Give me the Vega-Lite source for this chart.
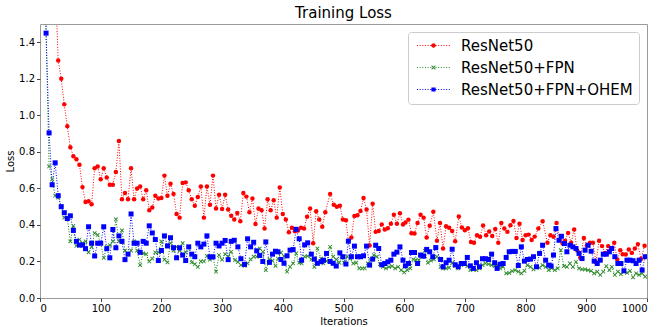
{
  "$schema": "https://vega.github.io/schema/vega-lite/v6.json",
  "width": 607,
  "height": 274,
  "autosize": {"type": "none"},
  "padding": {"left": 40, "top": 24, "right": 10, "bottom": 29},
  "background": "white",
  "title": {"text": "Training Loss", "fontSize": 15, "font": "DejaVu Sans", "fontWeight": "normal", "color": "black", "offset": 3, "anchor": "middle"},
  "config": {
    "view": {"stroke": "#9a9a9a", "strokeWidth": 1},
    "font": "DejaVu Sans",
    "axis": {"labelFont": "DejaVu Sans", "labelFontSize": 10, "labelColor": "black", "titleFont": "DejaVu Sans", "titleFontSize": 10, "titleFontWeight": "normal", "titleColor": "black", "domain": false, "grid": false, "tickColor": "#444444", "tickSize": 3.5, "labelPadding": 2},
    "legend": {"title": null, "orient": "top-right", "offset": 8, "labelFont": "DejaVu Sans", "labelFontSize": 15, "labelColor": "black", "labelLimit": 400, "symbolSize": 100, "symbolOffset": 12, "labelOffset": 20, "padding": 6, "rowPadding": 6, "strokeColor": "#cccccc", "fillColor": "rgba(255,255,255,0.85)", "cornerRadius": 3, "symbolStrokeWidth": 0, "symbolOpacity": 1}
  },
  "data": {"values": [
{"model":"ResNet50","iter":10,"loss":4.0},{"model":"ResNet50","iter":15,"loss":3.0},{"model":"ResNet50","iter":20,"loss":2.3},{"model":"ResNet50","iter":25,"loss":1.75},{"model":"ResNet50","iter":30,"loss":1.30},{"model":"ResNet50","iter":35,"loss":1.20},{"model":"ResNet50","iter":40,"loss":1.06},{"model":"ResNet50","iter":45,"loss":0.94},{"model":"ResNet50","iter":50,"loss":0.825},{"model":"ResNet50","iter":55,"loss":0.776},{"model":"ResNet50","iter":60,"loss":0.76},{"model":"ResNet50","iter":65,"loss":0.73},{"model":"ResNet50","iter":70,"loss":0.607},{"model":"ResNet50","iter":75,"loss":0.525},{"model":"ResNet50","iter":80,"loss":0.53},{"model":"ResNet50","iter":85,"loss":0.513},{"model":"ResNet50","iter":90,"loss":0.71},{"model":"ResNet50","iter":95,"loss":0.72},{"model":"ResNet50","iter":100,"loss":0.65},{"model":"ResNet50","iter":105,"loss":0.71},{"model":"ResNet50","iter":110,"loss":0.66},{"model":"ResNet50","iter":115,"loss":0.62},{"model":"ResNet50","iter":120,"loss":0.62},{"model":"ResNet50","iter":125,"loss":0.69},{"model":"ResNet50","iter":130,"loss":0.86},{"model":"ResNet50","iter":135,"loss":0.54},{"model":"ResNet50","iter":140,"loss":0.575},{"model":"ResNet50","iter":145,"loss":0.54},{"model":"ResNet50","iter":150,"loss":0.71},{"model":"ResNet50","iter":155,"loss":0.54},{"model":"ResNet50","iter":160,"loss":0.60},{"model":"ResNet50","iter":165,"loss":0.61},{"model":"ResNet50","iter":170,"loss":0.54},{"model":"ResNet50","iter":175,"loss":0.59},{"model":"ResNet50","iter":180,"loss":0.48},{"model":"ResNet50","iter":185,"loss":0.495},{"model":"ResNet50","iter":190,"loss":0.56},{"model":"ResNet50","iter":195,"loss":0.545},{"model":"ResNet50","iter":200,"loss":0.547},{"model":"ResNet50","iter":205,"loss":0.67},{"model":"ResNet50","iter":210,"loss":0.56},{"model":"ResNet50","iter":215,"loss":0.625},{"model":"ResNet50","iter":220,"loss":0.57},{"model":"ResNet50","iter":225,"loss":0.46},{"model":"ResNet50","iter":230,"loss":0.44},{"model":"ResNet50","iter":235,"loss":0.63},{"model":"ResNet50","iter":240,"loss":0.633},{"model":"ResNet50","iter":245,"loss":0.59},{"model":"ResNet50","iter":250,"loss":0.54},{"model":"ResNet50","iter":255,"loss":0.505},{"model":"ResNet50","iter":260,"loss":0.553},{"model":"ResNet50","iter":265,"loss":0.61},{"model":"ResNet50","iter":270,"loss":0.44},{"model":"ResNet50","iter":275,"loss":0.61},{"model":"ResNet50","iter":280,"loss":0.51},{"model":"ResNet50","iter":285,"loss":0.67},{"model":"ResNet50","iter":290,"loss":0.49},{"model":"ResNet50","iter":295,"loss":0.565},{"model":"ResNet50","iter":300,"loss":0.487},{"model":"ResNet50","iter":305,"loss":0.565},{"model":"ResNet50","iter":310,"loss":0.484},{"model":"ResNet50","iter":315,"loss":0.45},{"model":"ResNet50","iter":320,"loss":0.43},{"model":"ResNet50","iter":325,"loss":0.465},{"model":"ResNet50","iter":330,"loss":0.42},{"model":"ResNet50","iter":335,"loss":0.575},{"model":"ResNet50","iter":340,"loss":0.555},{"model":"ResNet50","iter":345,"loss":0.47},{"model":"ResNet50","iter":350,"loss":0.545},{"model":"ResNet50","iter":355,"loss":0.405},{"model":"ResNet50","iter":360,"loss":0.49},{"model":"ResNet50","iter":365,"loss":0.48},{"model":"ResNet50","iter":370,"loss":0.38},{"model":"ResNet50","iter":375,"loss":0.54},{"model":"ResNet50","iter":380,"loss":0.48},{"model":"ResNet50","iter":385,"loss":0.535},{"model":"ResNet50","iter":390,"loss":0.44},{"model":"ResNet50","iter":395,"loss":0.605},{"model":"ResNet50","iter":400,"loss":0.46},{"model":"ResNet50","iter":405,"loss":0.43},{"model":"ResNet50","iter":410,"loss":0.36},{"model":"ResNet50","iter":415,"loss":0.385},{"model":"ResNet50","iter":420,"loss":0.365},{"model":"ResNet50","iter":425,"loss":0.37},{"model":"ResNet50","iter":430,"loss":0.385},{"model":"ResNet50","iter":435,"loss":0.38},{"model":"ResNet50","iter":440,"loss":0.445},{"model":"ResNet50","iter":445,"loss":0.49},{"model":"ResNet50","iter":450,"loss":0.30},{"model":"ResNet50","iter":455,"loss":0.475},{"model":"ResNet50","iter":460,"loss":0.43},{"model":"ResNet50","iter":465,"loss":0.39},{"model":"ResNet50","iter":470,"loss":0.47},{"model":"ResNet50","iter":478,"loss":0.57},{"model":"ResNet50","iter":484,"loss":0.51},{"model":"ResNet50","iter":489,"loss":0.50},{"model":"ResNet50","iter":494,"loss":0.505},{"model":"ResNet50","iter":499,"loss":0.43},{"model":"ResNet50","iter":504,"loss":0.426},{"model":"ResNet50","iter":508,"loss":0.313},{"model":"ResNet50","iter":513,"loss":0.331},{"model":"ResNet50","iter":518,"loss":0.449},{"model":"ResNet50","iter":523,"loss":0.453},{"model":"ResNet50","iter":528,"loss":0.476},{"model":"ResNet50","iter":533,"loss":0.547},{"model":"ResNet50","iter":538,"loss":0.484},{"model":"ResNet50","iter":543,"loss":0.287},{"model":"ResNet50","iter":548,"loss":0.516},{"model":"ResNet50","iter":553,"loss":0.362},{"model":"ResNet50","iter":558,"loss":0.367},{"model":"ResNet50","iter":563,"loss":0.402},{"model":"ResNet50","iter":568,"loss":0.375},{"model":"ResNet50","iter":573,"loss":0.382},{"model":"ResNet50","iter":578,"loss":0.407},{"model":"ResNet50","iter":583,"loss":0.456},{"model":"ResNet50","iter":588,"loss":0.407},{"model":"ResNet50","iter":593,"loss":0.464},{"model":"ResNet50","iter":598,"loss":0.402},{"model":"ResNet50","iter":602,"loss":0.413},{"model":"ResNet50","iter":607,"loss":0.429},{"model":"ResNet50","iter":612,"loss":0.355},{"model":"ResNet50","iter":617,"loss":0.353},{"model":"ResNet50","iter":622,"loss":0.411},{"model":"ResNet50","iter":627,"loss":0.456},{"model":"ResNet50","iter":632,"loss":0.44},{"model":"ResNet50","iter":637,"loss":0.331},{"model":"ResNet50","iter":642,"loss":0.395},{"model":"ResNet50","iter":648,"loss":0.472},{"model":"ResNet50","iter":654,"loss":0.313},{"model":"ResNet50","iter":659,"loss":0.411},{"model":"ResNet50","iter":664,"loss":0.271},{"model":"ResNet50","iter":669,"loss":0.393},{"model":"ResNet50","iter":674,"loss":0.384},{"model":"ResNet50","iter":679,"loss":0.367},{"model":"ResNet50","iter":684,"loss":0.311},{"model":"ResNet50","iter":690,"loss":0.446},{"model":"ResNet50","iter":695,"loss":0.386},{"model":"ResNet50","iter":700,"loss":0.371},{"model":"ResNet50","iter":705,"loss":0.382},{"model":"ResNet50","iter":710,"loss":0.307},{"model":"ResNet50","iter":715,"loss":0.302},{"model":"ResNet50","iter":720,"loss":0.344},{"model":"ResNet50","iter":725,"loss":0.335},{"model":"ResNet50","iter":730,"loss":0.397},{"model":"ResNet50","iter":735,"loss":0.344},{"model":"ResNet50","iter":740,"loss":0.364},{"model":"ResNet50","iter":745,"loss":0.34},{"model":"ResNet50","iter":750,"loss":0.378},{"model":"ResNet50","iter":755,"loss":0.302},{"model":"ResNet50","iter":760,"loss":0.411},{"model":"ResNet50","iter":765,"loss":0.38},{"model":"ResNet50","iter":770,"loss":0.362},{"model":"ResNet50","iter":775,"loss":0.398},{"model":"ResNet50","iter":780,"loss":0.422},{"model":"ResNet50","iter":785,"loss":0.329},{"model":"ResNet50","iter":790,"loss":0.407},{"model":"ResNet50","iter":795,"loss":0.317},{"model":"ResNet50","iter":800,"loss":0.344},{"model":"ResNet50","iter":805,"loss":0.347},{"model":"ResNet50","iter":810,"loss":0.317},{"model":"ResNet50","iter":815,"loss":0.336},{"model":"ResNet50","iter":821,"loss":0.38},{"model":"ResNet50","iter":828,"loss":0.42},{"model":"ResNet50","iter":836,"loss":0.302},{"model":"ResNet50","iter":841,"loss":0.344},{"model":"ResNet50","iter":846,"loss":0.335},{"model":"ResNet50","iter":851,"loss":0.411},{"model":"ResNet50","iter":856,"loss":0.317},{"model":"ResNet50","iter":861,"loss":0.298},{"model":"ResNet50","iter":865,"loss":0.313},{"model":"ResNet50","iter":870,"loss":0.356},{"model":"ResNet50","iter":875,"loss":0.302},{"model":"ResNet50","iter":880,"loss":0.375},{"model":"ResNet50","iter":885,"loss":0.26},{"model":"ResNet50","iter":890,"loss":0.22},{"model":"ResNet50","iter":896,"loss":0.329},{"model":"ResNet50","iter":901,"loss":0.287},{"model":"ResNet50","iter":906,"loss":0.302},{"model":"ResNet50","iter":911,"loss":0.302},{"model":"ResNet50","iter":916,"loss":0.196},{"model":"ResNet50","iter":921,"loss":0.313},{"model":"ResNet50","iter":926,"loss":0.284},{"model":"ResNet50","iter":931,"loss":0.246},{"model":"ResNet50","iter":936,"loss":0.284},{"model":"ResNet50","iter":941,"loss":0.271},{"model":"ResNet50","iter":946,"loss":0.302},{"model":"ResNet50","iter":951,"loss":0.211},{"model":"ResNet50","iter":956,"loss":0.262},{"model":"ResNet50","iter":960,"loss":0.24},{"model":"ResNet50","iter":965,"loss":0.238},{"model":"ResNet50","iter":970,"loss":0.265},{"model":"ResNet50","iter":975,"loss":0.247},{"model":"ResNet50","iter":980,"loss":0.271},{"model":"ResNet50","iter":985,"loss":0.295},{"model":"ResNet50","iter":990,"loss":0.213},{"model":"ResNet50","iter":996,"loss":0.286},
{"model":"ResNet50+FPN","iter":5,"loss":4.0},{"model":"ResNet50+FPN","iter":10,"loss":1.45},{"model":"ResNet50+FPN","iter":15,"loss":0.72},{"model":"ResNet50+FPN","iter":20,"loss":0.65},{"model":"ResNet50+FPN","iter":25,"loss":0.56},{"model":"ResNet50+FPN","iter":30,"loss":0.55},{"model":"ResNet50+FPN","iter":35,"loss":0.50},{"model":"ResNet50+FPN","iter":40,"loss":0.44},{"model":"ResNet50+FPN","iter":45,"loss":0.44},{"model":"ResNet50+FPN","iter":50,"loss":0.31},{"model":"ResNet50+FPN","iter":55,"loss":0.395},{"model":"ResNet50+FPN","iter":60,"loss":0.285},{"model":"ResNet50+FPN","iter":65,"loss":0.32},{"model":"ResNet50+FPN","iter":70,"loss":0.30},{"model":"ResNet50+FPN","iter":75,"loss":0.31},{"model":"ResNet50+FPN","iter":80,"loss":0.25},{"model":"ResNet50+FPN","iter":85,"loss":0.28},{"model":"ResNet50+FPN","iter":90,"loss":0.355},{"model":"ResNet50+FPN","iter":95,"loss":0.345},{"model":"ResNet50+FPN","iter":100,"loss":0.30},{"model":"ResNet50+FPN","iter":105,"loss":0.22},{"model":"ResNet50+FPN","iter":110,"loss":0.28},{"model":"ResNet50+FPN","iter":115,"loss":0.29},{"model":"ResNet50+FPN","iter":120,"loss":0.31},{"model":"ResNet50+FPN","iter":125,"loss":0.43},{"model":"ResNet50+FPN","iter":130,"loss":0.31},{"model":"ResNet50+FPN","iter":135,"loss":0.37},{"model":"ResNet50+FPN","iter":140,"loss":0.26},{"model":"ResNet50+FPN","iter":145,"loss":0.24},{"model":"ResNet50+FPN","iter":150,"loss":0.26},{"model":"ResNet50+FPN","iter":155,"loss":0.31},{"model":"ResNet50+FPN","iter":160,"loss":0.26},{"model":"ResNet50+FPN","iter":165,"loss":0.18},{"model":"ResNet50+FPN","iter":170,"loss":0.245},{"model":"ResNet50+FPN","iter":175,"loss":0.24},{"model":"ResNet50+FPN","iter":180,"loss":0.20},{"model":"ResNet50+FPN","iter":185,"loss":0.215},{"model":"ResNet50+FPN","iter":190,"loss":0.25},{"model":"ResNet50+FPN","iter":195,"loss":0.25},{"model":"ResNet50+FPN","iter":200,"loss":0.31},{"model":"ResNet50+FPN","iter":205,"loss":0.21},{"model":"ResNet50+FPN","iter":210,"loss":0.195},{"model":"ResNet50+FPN","iter":215,"loss":0.30},{"model":"ResNet50+FPN","iter":220,"loss":0.26},{"model":"ResNet50+FPN","iter":225,"loss":0.28},{"model":"ResNet50+FPN","iter":230,"loss":0.26},{"model":"ResNet50+FPN","iter":235,"loss":0.30},{"model":"ResNet50+FPN","iter":240,"loss":0.25},{"model":"ResNet50+FPN","iter":245,"loss":0.28},{"model":"ResNet50+FPN","iter":250,"loss":0.195},{"model":"ResNet50+FPN","iter":255,"loss":0.185},{"model":"ResNet50+FPN","iter":260,"loss":0.17},{"model":"ResNet50+FPN","iter":265,"loss":0.2},{"model":"ResNet50+FPN","iter":270,"loss":0.2},{"model":"ResNet50+FPN","iter":275,"loss":0.23},{"model":"ResNet50+FPN","iter":280,"loss":0.21},{"model":"ResNet50+FPN","iter":285,"loss":0.226},{"model":"ResNet50+FPN","iter":290,"loss":0.144},{"model":"ResNet50+FPN","iter":295,"loss":0.235},{"model":"ResNet50+FPN","iter":300,"loss":0.21},{"model":"ResNet50+FPN","iter":305,"loss":0.24},{"model":"ResNet50+FPN","iter":310,"loss":0.225},{"model":"ResNet50+FPN","iter":315,"loss":0.253},{"model":"ResNet50+FPN","iter":321,"loss":0.207},{"model":"ResNet50+FPN","iter":326,"loss":0.198},{"model":"ResNet50+FPN","iter":331,"loss":0.18},{"model":"ResNet50+FPN","iter":337,"loss":0.176},{"model":"ResNet50+FPN","iter":342,"loss":0.189},{"model":"ResNet50+FPN","iter":347,"loss":0.211},{"model":"ResNet50+FPN","iter":352,"loss":0.226},{"model":"ResNet50+FPN","iter":357,"loss":0.226},{"model":"ResNet50+FPN","iter":362,"loss":0.271},{"model":"ResNet50+FPN","iter":367,"loss":0.253},{"model":"ResNet50+FPN","iter":372,"loss":0.153},{"model":"ResNet50+FPN","iter":378,"loss":0.211},{"model":"ResNet50+FPN","iter":383,"loss":0.204},{"model":"ResNet50+FPN","iter":388,"loss":0.176},{"model":"ResNet50+FPN","iter":392,"loss":0.216},{"model":"ResNet50+FPN","iter":397,"loss":0.248},{"model":"ResNet50+FPN","iter":402,"loss":0.229},{"model":"ResNet50+FPN","iter":407,"loss":0.144},{"model":"ResNet50+FPN","iter":412,"loss":0.171},{"model":"ResNet50+FPN","iter":417,"loss":0.189},{"model":"ResNet50+FPN","iter":422,"loss":0.244},{"model":"ResNet50+FPN","iter":427,"loss":0.193},{"model":"ResNet50+FPN","iter":431,"loss":0.189},{"model":"ResNet50+FPN","iter":436,"loss":0.226},{"model":"ResNet50+FPN","iter":441,"loss":0.229},{"model":"ResNet50+FPN","iter":447,"loss":0.211},{"model":"ResNet50+FPN","iter":452,"loss":0.171},{"model":"ResNet50+FPN","iter":457,"loss":0.271},{"model":"ResNet50+FPN","iter":463,"loss":0.216},{"model":"ResNet50+FPN","iter":467,"loss":0.189},{"model":"ResNet50+FPN","iter":472,"loss":0.202},{"model":"ResNet50+FPN","iter":478,"loss":0.28},{"model":"ResNet50+FPN","iter":483,"loss":0.226},{"model":"ResNet50+FPN","iter":488,"loss":0.211},{"model":"ResNet50+FPN","iter":493,"loss":0.193},{"model":"ResNet50+FPN","iter":497,"loss":0.226},{"model":"ResNet50+FPN","iter":501,"loss":0.193},{"model":"ResNet50+FPN","iter":506,"loss":0.226},{"model":"ResNet50+FPN","iter":511,"loss":0.216},{"model":"ResNet50+FPN","iter":516,"loss":0.189},{"model":"ResNet50+FPN","iter":521,"loss":0.193},{"model":"ResNet50+FPN","iter":526,"loss":0.162},{"model":"ResNet50+FPN","iter":531,"loss":0.162},{"model":"ResNet50+FPN","iter":535,"loss":0.162},{"model":"ResNet50+FPN","iter":540,"loss":0.189},{"model":"ResNet50+FPN","iter":545,"loss":0.207},{"model":"ResNet50+FPN","iter":550,"loss":0.235},{"model":"ResNet50+FPN","iter":555,"loss":0.226},{"model":"ResNet50+FPN","iter":560,"loss":0.186},{"model":"ResNet50+FPN","iter":565,"loss":0.171},{"model":"ResNet50+FPN","iter":570,"loss":0.162},{"model":"ResNet50+FPN","iter":575,"loss":0.171},{"model":"ResNet50+FPN","iter":580,"loss":0.175},{"model":"ResNet50+FPN","iter":585,"loss":0.162},{"model":"ResNet50+FPN","iter":590,"loss":0.171},{"model":"ResNet50+FPN","iter":595,"loss":0.153},{"model":"ResNet50+FPN","iter":600,"loss":0.14},{"model":"ResNet50+FPN","iter":605,"loss":0.153},{"model":"ResNet50+FPN","iter":610,"loss":0.162},{"model":"ResNet50+FPN","iter":615,"loss":0.211},{"model":"ResNet50+FPN","iter":619,"loss":0.207},{"model":"ResNet50+FPN","iter":624,"loss":0.207},{"model":"ResNet50+FPN","iter":629,"loss":0.226},{"model":"ResNet50+FPN","iter":634,"loss":0.258},{"model":"ResNet50+FPN","iter":639,"loss":0.193},{"model":"ResNet50+FPN","iter":644,"loss":0.204},{"model":"ResNet50+FPN","iter":649,"loss":0.211},{"model":"ResNet50+FPN","iter":654,"loss":0.226},{"model":"ResNet50+FPN","iter":660,"loss":0.171},{"model":"ResNet50+FPN","iter":664,"loss":0.162},{"model":"ResNet50+FPN","iter":669,"loss":0.162},{"model":"ResNet50+FPN","iter":674,"loss":0.166},{"model":"ResNet50+FPN","iter":679,"loss":0.193},{"model":"ResNet50+FPN","iter":684,"loss":0.175},{"model":"ResNet50+FPN","iter":689,"loss":0.162},{"model":"ResNet50+FPN","iter":694,"loss":0.18},{"model":"ResNet50+FPN","iter":699,"loss":0.189},{"model":"ResNet50+FPN","iter":704,"loss":0.175},{"model":"ResNet50+FPN","iter":709,"loss":0.153},{"model":"ResNet50+FPN","iter":714,"loss":0.162},{"model":"ResNet50+FPN","iter":719,"loss":0.153},{"model":"ResNet50+FPN","iter":724,"loss":0.162},{"model":"ResNet50+FPN","iter":729,"loss":0.18},{"model":"ResNet50+FPN","iter":734,"loss":0.189},{"model":"ResNet50+FPN","iter":739,"loss":0.186},{"model":"ResNet50+FPN","iter":744,"loss":0.18},{"model":"ResNet50+FPN","iter":749,"loss":0.175},{"model":"ResNet50+FPN","iter":753,"loss":0.18},{"model":"ResNet50+FPN","iter":758,"loss":0.162},{"model":"ResNet50+FPN","iter":763,"loss":0.171},{"model":"ResNet50+FPN","iter":768,"loss":0.135},{"model":"ResNet50+FPN","iter":773,"loss":0.138},{"model":"ResNet50+FPN","iter":778,"loss":0.147},{"model":"ResNet50+FPN","iter":783,"loss":0.153},{"model":"ResNet50+FPN","iter":788,"loss":0.144},{"model":"ResNet50+FPN","iter":793,"loss":0.135},{"model":"ResNet50+FPN","iter":798,"loss":0.149},{"model":"ResNet50+FPN","iter":803,"loss":0.18},{"model":"ResNet50+FPN","iter":808,"loss":0.171},{"model":"ResNet50+FPN","iter":813,"loss":0.157},{"model":"ResNet50+FPN","iter":818,"loss":0.171},{"model":"ResNet50+FPN","iter":823,"loss":0.166},{"model":"ResNet50+FPN","iter":828,"loss":0.18},{"model":"ResNet50+FPN","iter":833,"loss":0.171},{"model":"ResNet50+FPN","iter":838,"loss":0.153},{"model":"ResNet50+FPN","iter":843,"loss":0.162},{"model":"ResNet50+FPN","iter":848,"loss":0.153},{"model":"ResNet50+FPN","iter":853,"loss":0.162},{"model":"ResNet50+FPN","iter":858,"loss":0.262},{"model":"ResNet50+FPN","iter":863,"loss":0.175},{"model":"ResNet50+FPN","iter":868,"loss":0.171},{"model":"ResNet50+FPN","iter":873,"loss":0.189},{"model":"ResNet50+FPN","iter":878,"loss":0.171},{"model":"ResNet50+FPN","iter":883,"loss":0.198},{"model":"ResNet50+FPN","iter":888,"loss":0.162},{"model":"ResNet50+FPN","iter":893,"loss":0.157},{"model":"ResNet50+FPN","iter":898,"loss":0.157},{"model":"ResNet50+FPN","iter":903,"loss":0.153},{"model":"ResNet50+FPN","iter":908,"loss":0.149},{"model":"ResNet50+FPN","iter":913,"loss":0.135},{"model":"ResNet50+FPN","iter":918,"loss":0.144},{"model":"ResNet50+FPN","iter":923,"loss":0.126},{"model":"ResNet50+FPN","iter":928,"loss":0.144},{"model":"ResNet50+FPN","iter":933,"loss":0.175},{"model":"ResNet50+FPN","iter":938,"loss":0.153},{"model":"ResNet50+FPN","iter":942,"loss":0.171},{"model":"ResNet50+FPN","iter":947,"loss":0.126},{"model":"ResNet50+FPN","iter":952,"loss":0.144},{"model":"ResNet50+FPN","iter":957,"loss":0.131},{"model":"ResNet50+FPN","iter":962,"loss":0.144},{"model":"ResNet50+FPN","iter":967,"loss":0.138},{"model":"ResNet50+FPN","iter":972,"loss":0.149},{"model":"ResNet50+FPN","iter":977,"loss":0.113},{"model":"ResNet50+FPN","iter":982,"loss":0.135},{"model":"ResNet50+FPN","iter":987,"loss":0.126},{"model":"ResNet50+FPN","iter":992,"loss":0.135},{"model":"ResNet50+FPN","iter":997,"loss":0.117},
{"model":"ResNet50+FPN+OHEM","iter":5,"loss":4.0},{"model":"ResNet50+FPN+OHEM","iter":10,"loss":1.45},{"model":"ResNet50+FPN+OHEM","iter":15,"loss":0.904},{"model":"ResNet50+FPN+OHEM","iter":20,"loss":0.62},{"model":"ResNet50+FPN+OHEM","iter":25,"loss":0.74},{"model":"ResNet50+FPN+OHEM","iter":30,"loss":0.56},{"model":"ResNet50+FPN+OHEM","iter":35,"loss":0.50},{"model":"ResNet50+FPN+OHEM","iter":40,"loss":0.467},{"model":"ResNet50+FPN+OHEM","iter":45,"loss":0.435},{"model":"ResNet50+FPN+OHEM","iter":50,"loss":0.45},{"model":"ResNet50+FPN+OHEM","iter":55,"loss":0.37},{"model":"ResNet50+FPN+OHEM","iter":60,"loss":0.31},{"model":"ResNet50+FPN+OHEM","iter":65,"loss":0.29},{"model":"ResNet50+FPN+OHEM","iter":70,"loss":0.29},{"model":"ResNet50+FPN+OHEM","iter":75,"loss":0.27},{"model":"ResNet50+FPN+OHEM","iter":80,"loss":0.39},{"model":"ResNet50+FPN+OHEM","iter":85,"loss":0.30},{"model":"ResNet50+FPN+OHEM","iter":90,"loss":0.23},{"model":"ResNet50+FPN+OHEM","iter":95,"loss":0.30},{"model":"ResNet50+FPN+OHEM","iter":100,"loss":0.30},{"model":"ResNet50+FPN+OHEM","iter":105,"loss":0.39},{"model":"ResNet50+FPN+OHEM","iter":110,"loss":0.27},{"model":"ResNet50+FPN+OHEM","iter":115,"loss":0.22},{"model":"ResNet50+FPN+OHEM","iter":120,"loss":0.375},{"model":"ResNet50+FPN+OHEM","iter":125,"loss":0.275},{"model":"ResNet50+FPN+OHEM","iter":130,"loss":0.34},{"model":"ResNet50+FPN+OHEM","iter":135,"loss":0.31},{"model":"ResNet50+FPN+OHEM","iter":140,"loss":0.21},{"model":"ResNet50+FPN+OHEM","iter":145,"loss":0.24},{"model":"ResNet50+FPN+OHEM","iter":150,"loss":0.46},{"model":"ResNet50+FPN+OHEM","iter":155,"loss":0.30},{"model":"ResNet50+FPN+OHEM","iter":160,"loss":0.30},{"model":"ResNet50+FPN+OHEM","iter":165,"loss":0.25},{"model":"ResNet50+FPN+OHEM","iter":170,"loss":0.31},{"model":"ResNet50+FPN+OHEM","iter":175,"loss":0.30},{"model":"ResNet50+FPN+OHEM","iter":180,"loss":0.395},{"model":"ResNet50+FPN+OHEM","iter":185,"loss":0.356},{"model":"ResNet50+FPN+OHEM","iter":190,"loss":0.32},{"model":"ResNet50+FPN+OHEM","iter":195,"loss":0.205},{"model":"ResNet50+FPN+OHEM","iter":200,"loss":0.26},{"model":"ResNet50+FPN+OHEM","iter":205,"loss":0.34},{"model":"ResNet50+FPN+OHEM","iter":210,"loss":0.285},{"model":"ResNet50+FPN+OHEM","iter":215,"loss":0.33},{"model":"ResNet50+FPN+OHEM","iter":220,"loss":0.275},{"model":"ResNet50+FPN+OHEM","iter":225,"loss":0.22},{"model":"ResNet50+FPN+OHEM","iter":230,"loss":0.275},{"model":"ResNet50+FPN+OHEM","iter":235,"loss":0.235},{"model":"ResNet50+FPN+OHEM","iter":240,"loss":0.205},{"model":"ResNet50+FPN+OHEM","iter":245,"loss":0.28},{"model":"ResNet50+FPN+OHEM","iter":250,"loss":0.24},{"model":"ResNet50+FPN+OHEM","iter":255,"loss":0.226},{"model":"ResNet50+FPN+OHEM","iter":260,"loss":0.30},{"model":"ResNet50+FPN+OHEM","iter":265,"loss":0.28},{"model":"ResNet50+FPN+OHEM","iter":270,"loss":0.295},{"model":"ResNet50+FPN+OHEM","iter":275,"loss":0.34},{"model":"ResNet50+FPN+OHEM","iter":280,"loss":0.225},{"model":"ResNet50+FPN+OHEM","iter":285,"loss":0.225},{"model":"ResNet50+FPN+OHEM","iter":290,"loss":0.30},{"model":"ResNet50+FPN+OHEM","iter":295,"loss":0.285},{"model":"ResNet50+FPN+OHEM","iter":300,"loss":0.30},{"model":"ResNet50+FPN+OHEM","iter":305,"loss":0.315},{"model":"ResNet50+FPN+OHEM","iter":310,"loss":0.21},{"model":"ResNet50+FPN+OHEM","iter":315,"loss":0.31},{"model":"ResNet50+FPN+OHEM","iter":320,"loss":0.316},{"model":"ResNet50+FPN+OHEM","iter":326,"loss":0.28},{"model":"ResNet50+FPN+OHEM","iter":331,"loss":0.215},{"model":"ResNet50+FPN+OHEM","iter":337,"loss":0.184},{"model":"ResNet50+FPN+OHEM","iter":342,"loss":0.324},{"model":"ResNet50+FPN+OHEM","iter":347,"loss":0.28},{"model":"ResNet50+FPN+OHEM","iter":352,"loss":0.305},{"model":"ResNet50+FPN+OHEM","iter":357,"loss":0.258},{"model":"ResNet50+FPN+OHEM","iter":362,"loss":0.233},{"model":"ResNet50+FPN+OHEM","iter":367,"loss":0.2},{"model":"ResNet50+FPN+OHEM","iter":372,"loss":0.307},{"model":"ResNet50+FPN+OHEM","iter":378,"loss":0.195},{"model":"ResNet50+FPN+OHEM","iter":383,"loss":0.24},{"model":"ResNet50+FPN+OHEM","iter":388,"loss":0.256},{"model":"ResNet50+FPN+OHEM","iter":392,"loss":0.253},{"model":"ResNet50+FPN+OHEM","iter":397,"loss":0.211},{"model":"ResNet50+FPN+OHEM","iter":402,"loss":0.19},{"model":"ResNet50+FPN+OHEM","iter":407,"loss":0.231},{"model":"ResNet50+FPN+OHEM","iter":412,"loss":0.262},{"model":"ResNet50+FPN+OHEM","iter":417,"loss":0.265},{"model":"ResNet50+FPN+OHEM","iter":422,"loss":0.376},{"model":"ResNet50+FPN+OHEM","iter":427,"loss":0.324},{"model":"ResNet50+FPN+OHEM","iter":431,"loss":0.207},{"model":"ResNet50+FPN+OHEM","iter":436,"loss":0.291},{"model":"ResNet50+FPN+OHEM","iter":441,"loss":0.302},{"model":"ResNet50+FPN+OHEM","iter":447,"loss":0.24},{"model":"ResNet50+FPN+OHEM","iter":452,"loss":0.213},{"model":"ResNet50+FPN+OHEM","iter":457,"loss":0.19},{"model":"ResNet50+FPN+OHEM","iter":463,"loss":0.199},{"model":"ResNet50+FPN+OHEM","iter":467,"loss":0.207},{"model":"ResNet50+FPN+OHEM","iter":472,"loss":0.244},{"model":"ResNet50+FPN+OHEM","iter":478,"loss":0.2},{"model":"ResNet50+FPN+OHEM","iter":483,"loss":0.19},{"model":"ResNet50+FPN+OHEM","iter":488,"loss":0.175},{"model":"ResNet50+FPN+OHEM","iter":494,"loss":0.247},{"model":"ResNet50+FPN+OHEM","iter":499,"loss":0.226},{"model":"ResNet50+FPN+OHEM","iter":504,"loss":0.186},{"model":"ResNet50+FPN+OHEM","iter":508,"loss":0.311},{"model":"ResNet50+FPN+OHEM","iter":513,"loss":0.226},{"model":"ResNet50+FPN+OHEM","iter":518,"loss":0.284},{"model":"ResNet50+FPN+OHEM","iter":523,"loss":0.226},{"model":"ResNet50+FPN+OHEM","iter":528,"loss":0.226},{"model":"ResNet50+FPN+OHEM","iter":533,"loss":0.231},{"model":"ResNet50+FPN+OHEM","iter":538,"loss":0.284},{"model":"ResNet50+FPN+OHEM","iter":543,"loss":0.18},{"model":"ResNet50+FPN+OHEM","iter":548,"loss":0.213},{"model":"ResNet50+FPN+OHEM","iter":553,"loss":0.289},{"model":"ResNet50+FPN+OHEM","iter":558,"loss":0.271},{"model":"ResNet50+FPN+OHEM","iter":563,"loss":0.182},{"model":"ResNet50+FPN+OHEM","iter":568,"loss":0.189},{"model":"ResNet50+FPN+OHEM","iter":573,"loss":0.198},{"model":"ResNet50+FPN+OHEM","iter":578,"loss":0.207},{"model":"ResNet50+FPN+OHEM","iter":583,"loss":0.24},{"model":"ResNet50+FPN+OHEM","iter":588,"loss":0.251},{"model":"ResNet50+FPN+OHEM","iter":593,"loss":0.28},{"model":"ResNet50+FPN+OHEM","iter":598,"loss":0.207},{"model":"ResNet50+FPN+OHEM","iter":602,"loss":0.176},{"model":"ResNet50+FPN+OHEM","iter":607,"loss":0.189},{"model":"ResNet50+FPN+OHEM","iter":612,"loss":0.249},{"model":"ResNet50+FPN+OHEM","iter":617,"loss":0.249},{"model":"ResNet50+FPN+OHEM","iter":622,"loss":0.189},{"model":"ResNet50+FPN+OHEM","iter":627,"loss":0.235},{"model":"ResNet50+FPN+OHEM","iter":632,"loss":0.229},{"model":"ResNet50+FPN+OHEM","iter":637,"loss":0.266},{"model":"ResNet50+FPN+OHEM","iter":642,"loss":0.253},{"model":"ResNet50+FPN+OHEM","iter":647,"loss":0.226},{"model":"ResNet50+FPN+OHEM","iter":652,"loss":0.276},{"model":"ResNet50+FPN+OHEM","iter":660,"loss":0.211},{"model":"ResNet50+FPN+OHEM","iter":664,"loss":0.171},{"model":"ResNet50+FPN+OHEM","iter":669,"loss":0.193},{"model":"ResNet50+FPN+OHEM","iter":674,"loss":0.207},{"model":"ResNet50+FPN+OHEM","iter":679,"loss":0.267},{"model":"ResNet50+FPN+OHEM","iter":684,"loss":0.182},{"model":"ResNet50+FPN+OHEM","iter":689,"loss":0.171},{"model":"ResNet50+FPN+OHEM","iter":694,"loss":0.189},{"model":"ResNet50+FPN+OHEM","iter":699,"loss":0.189},{"model":"ResNet50+FPN+OHEM","iter":704,"loss":0.222},{"model":"ResNet50+FPN+OHEM","iter":709,"loss":0.176},{"model":"ResNet50+FPN+OHEM","iter":714,"loss":0.162},{"model":"ResNet50+FPN+OHEM","iter":719,"loss":0.193},{"model":"ResNet50+FPN+OHEM","iter":724,"loss":0.171},{"model":"ResNet50+FPN+OHEM","iter":729,"loss":0.215},{"model":"ResNet50+FPN+OHEM","iter":734,"loss":0.215},{"model":"ResNet50+FPN+OHEM","iter":739,"loss":0.211},{"model":"ResNet50+FPN+OHEM","iter":744,"loss":0.24},{"model":"ResNet50+FPN+OHEM","iter":749,"loss":0.193},{"model":"ResNet50+FPN+OHEM","iter":753,"loss":0.162},{"model":"ResNet50+FPN+OHEM","iter":758,"loss":0.185},{"model":"ResNet50+FPN+OHEM","iter":763,"loss":0.189},{"model":"ResNet50+FPN+OHEM","iter":768,"loss":0.222},{"model":"ResNet50+FPN+OHEM","iter":773,"loss":0.253},{"model":"ResNet50+FPN+OHEM","iter":778,"loss":0.255},{"model":"ResNet50+FPN+OHEM","iter":783,"loss":0.255},{"model":"ResNet50+FPN+OHEM","iter":788,"loss":0.178},{"model":"ResNet50+FPN+OHEM","iter":793,"loss":0.28},{"model":"ResNet50+FPN+OHEM","iter":798,"loss":0.202},{"model":"ResNet50+FPN+OHEM","iter":803,"loss":0.211},{"model":"ResNet50+FPN+OHEM","iter":808,"loss":0.213},{"model":"ResNet50+FPN+OHEM","iter":813,"loss":0.226},{"model":"ResNet50+FPN+OHEM","iter":818,"loss":0.171},{"model":"ResNet50+FPN+OHEM","iter":823,"loss":0.244},{"model":"ResNet50+FPN+OHEM","iter":828,"loss":0.289},{"model":"ResNet50+FPN+OHEM","iter":833,"loss":0.207},{"model":"ResNet50+FPN+OHEM","iter":838,"loss":0.18},{"model":"ResNet50+FPN+OHEM","iter":842,"loss":0.175},{"model":"ResNet50+FPN+OHEM","iter":846,"loss":0.235},{"model":"ResNet50+FPN+OHEM","iter":850,"loss":0.38},{"model":"ResNet50+FPN+OHEM","iter":855,"loss":0.316},{"model":"ResNet50+FPN+OHEM","iter":859,"loss":0.338},{"model":"ResNet50+FPN+OHEM","iter":864,"loss":0.298},{"model":"ResNet50+FPN+OHEM","iter":868,"loss":0.253},{"model":"ResNet50+FPN+OHEM","iter":873,"loss":0.289},{"model":"ResNet50+FPN+OHEM","iter":878,"loss":0.28},{"model":"ResNet50+FPN+OHEM","iter":883,"loss":0.271},{"model":"ResNet50+FPN+OHEM","iter":888,"loss":0.244},{"model":"ResNet50+FPN+OHEM","iter":893,"loss":0.216},{"model":"ResNet50+FPN+OHEM","iter":898,"loss":0.262},{"model":"ResNet50+FPN+OHEM","iter":903,"loss":0.289},{"model":"ResNet50+FPN+OHEM","iter":908,"loss":0.256},{"model":"ResNet50+FPN+OHEM","iter":913,"loss":0.202},{"model":"ResNet50+FPN+OHEM","iter":918,"loss":0.189},{"model":"ResNet50+FPN+OHEM","iter":923,"loss":0.207},{"model":"ResNet50+FPN+OHEM","iter":928,"loss":0.24},{"model":"ResNet50+FPN+OHEM","iter":933,"loss":0.24},{"model":"ResNet50+FPN+OHEM","iter":938,"loss":0.253},{"model":"ResNet50+FPN+OHEM","iter":942,"loss":0.271},{"model":"ResNet50+FPN+OHEM","iter":947,"loss":0.226},{"model":"ResNet50+FPN+OHEM","iter":952,"loss":0.189},{"model":"ResNet50+FPN+OHEM","iter":957,"loss":0.189},{"model":"ResNet50+FPN+OHEM","iter":962,"loss":0.149},{"model":"ResNet50+FPN+OHEM","iter":967,"loss":0.207},{"model":"ResNet50+FPN+OHEM","iter":972,"loss":0.207},{"model":"ResNet50+FPN+OHEM","iter":977,"loss":0.204},{"model":"ResNet50+FPN+OHEM","iter":982,"loss":0.189},{"model":"ResNet50+FPN+OHEM","iter":987,"loss":0.207},{"model":"ResNet50+FPN+OHEM","iter":992,"loss":0.153},{"model":"ResNet50+FPN+OHEM","iter":997,"loss":0.226}
  ]},
  "encoding": {
    "x": {"field": "iter", "type": "quantitative", "scale": {"domain": [0, 1000], "nice": false, "zero": false}, "axis": {"title": "Iterations", "values": [0,100,200,300,400,500,600,700,800,900,1000], "format": "d", "titlePadding": 3}},
    "y": {"field": "loss", "type": "quantitative", "scale": {"domain": [0, 1.5], "nice": false}, "axis": {"title": "Loss", "values": [0,0.2,0.4,0.6,0.8,1.0,1.2,1.4], "format": ".1f", "titlePadding": 3}}
  },
  "layer": [
    {"transform": [{"filter": "datum.model === 'ResNet50'"}], "mark": {"type": "line", "clip": true, "color": "#ff0000", "strokeWidth": 1, "strokeDash": [1, 1.65]}},
    {"transform": [{"filter": "datum.model === 'ResNet50+FPN'"}], "mark": {"type": "line", "clip": true, "color": "#008000", "strokeWidth": 1, "strokeDash": [1, 1.65]}},
    {"transform": [{"filter": "datum.model === 'ResNet50+FPN+OHEM'"}], "mark": {"type": "line", "clip": true, "color": "#0000ff", "strokeWidth": 1, "strokeDash": [1, 1.65]}},
    {"transform": [{"filter": "datum.model === 'ResNet50'"}], "mark": {"type": "point", "clip": true, "shape": "circle", "filled": true, "opacity": 1, "color": "#ff0000", "size": 20}},
    {"transform": [{"filter": "datum.model === 'ResNet50+FPN'"}], "mark": {"type": "point", "clip": true, "shape": "M-1,-0.7L-0.7,-1L0,-0.3L0.7,-1L1,-0.7L0.3,0L1,0.7L0.7,1L0,0.3L-0.7,1L-1,0.7L-0.3,0Z", "filled": true, "opacity": 1, "color": "#2a8a2a", "size": 18}},
    {"transform": [{"filter": "datum.model === 'ResNet50+FPN+OHEM'"}], "mark": {"type": "point", "clip": true, "shape": "square", "filled": true, "opacity": 1, "color": "#0000ff", "size": 25}},
    {"transform": [{"filter": "datum.loss > 1.6"}], "mark": {"type": "point", "clip": true, "filled": true, "opacity": 1, "size": 100},
     "encoding": {
       "color": {"field": "model", "type": "nominal", "scale": {"domain": ["ResNet50", "ResNet50+FPN", "ResNet50+FPN+OHEM"], "range": ["#ff0000", "#2a8a2a", "#0000ff"]}},
       "shape": {"field": "model", "type": "nominal", "scale": {"domain": ["ResNet50", "ResNet50+FPN", "ResNet50+FPN+OHEM"], "range": [
         "M-3.3,-0.1h0.2v0.2h-0.2zM-2.77,-0.1h0.2v0.2h-0.2zM-2.24,-0.1h0.2v0.2h-0.2zM-1.71,-0.1h0.2v0.2h-0.2zM-1.18,-0.1h0.2v0.2h-0.2zM-0.65,-0.1h0.2v0.2h-0.2zM0.41,-0.1h0.2v0.2h-0.2zM0.94,-0.1h0.2v0.2h-0.2zM1.47,-0.1h0.2v0.2h-0.2zM2,-0.1h0.2v0.2h-0.2zM2.53,-0.1h0.2v0.2h-0.2zM3.06,-0.1h0.2v0.2h-0.2zM0.45,0A0.45,0.45,0,1,1,-0.45,0A0.45,0.45,0,1,1,0.45,0Z",
         "M-3.3,-0.1h0.2v0.2h-0.2zM-2.77,-0.1h0.2v0.2h-0.2zM-2.24,-0.1h0.2v0.2h-0.2zM-1.71,-0.1h0.2v0.2h-0.2zM-1.18,-0.1h0.2v0.2h-0.2zM-0.65,-0.1h0.2v0.2h-0.2zM0.41,-0.1h0.2v0.2h-0.2zM0.94,-0.1h0.2v0.2h-0.2zM1.47,-0.1h0.2v0.2h-0.2zM2,-0.1h0.2v0.2h-0.2zM2.53,-0.1h0.2v0.2h-0.2zM3.06,-0.1h0.2v0.2h-0.2zM-0.45,-0.315L-0.315,-0.45L0,-0.135L0.315,-0.45L0.45,-0.315L0.135,0L0.45,0.315L0.315,0.45L0,0.135L-0.315,0.45L-0.45,0.315L-0.135,0Z",
         "M-3.3,-0.1h0.2v0.2h-0.2zM-2.77,-0.1h0.2v0.2h-0.2zM-2.24,-0.1h0.2v0.2h-0.2zM-1.71,-0.1h0.2v0.2h-0.2zM-1.18,-0.1h0.2v0.2h-0.2zM-0.65,-0.1h0.2v0.2h-0.2zM0.41,-0.1h0.2v0.2h-0.2zM0.94,-0.1h0.2v0.2h-0.2zM1.47,-0.1h0.2v0.2h-0.2zM2,-0.1h0.2v0.2h-0.2zM2.53,-0.1h0.2v0.2h-0.2zM3.06,-0.1h0.2v0.2h-0.2zM-0.42,-0.42h0.84v0.84h-0.84z"
       ]}}
     }
    }
  ]
}
